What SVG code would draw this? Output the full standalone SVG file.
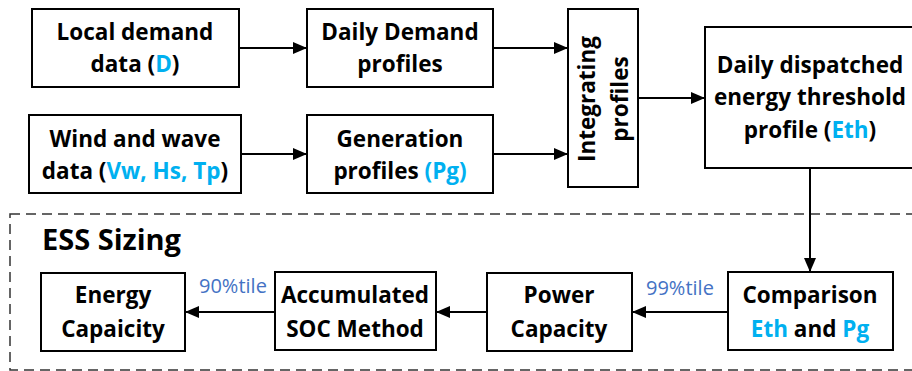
<svg xmlns="http://www.w3.org/2000/svg" width="912" height="371" viewBox="0 0 912 371">
  <style>
    .box { fill: #ffffff; stroke: #000000; stroke-width: 2; }
    .lbl { font-family: "Open Sans", "Liberation Sans", sans-serif; font-weight: bold; font-size: 22.5px; fill: #000000; text-anchor: middle; }
    .hl { fill: #00B0F0; }
    .pct { font-family: "Open Sans", "Liberation Sans", sans-serif; font-size: 20px; fill: #4472C4; }
    .edge { stroke: #000000; stroke-width: 2; fill: none; marker-end: url(#arrow); }
  </style>
  <defs>
    <marker id="arrow" viewBox="0 0 14 12" refX="14" refY="6" markerWidth="14" markerHeight="12" markerUnits="userSpaceOnUse" orient="auto">
      <path d="M0,0 L14,6 L0,12 Z" fill="#000000"/>
    </marker>
  </defs>
  <rect width="912" height="371" fill="#ffffff"/>

  <!-- ESS sizing frame -->
  <g id="ess-frame">
    <rect x="10" y="214" width="910" height="156" fill="none" stroke="#333333" stroke-width="1.5" stroke-dasharray="10,6"/>
    <text x="42" y="250" font-family="'Open Sans', 'Liberation Sans', sans-serif" font-weight="bold" font-size="29" fill="#000000">ESS Sizing</text>
  </g>

  <!-- connectors -->
  <g id="connectors">
    <line class="edge" x1="239" y1="48" x2="307" y2="48"/>
    <line class="edge" x1="241" y1="154" x2="307" y2="154"/>
    <line class="edge" x1="493" y1="48" x2="568" y2="48"/>
    <line class="edge" x1="493" y1="154" x2="568" y2="154"/>
    <line class="edge" x1="638" y1="98" x2="705" y2="98"/>
    <line class="edge" x1="810" y1="168" x2="810" y2="272"/>
    <line class="edge" x1="728" y1="312" x2="632" y2="312"/>
    <line class="edge" x1="487" y1="312" x2="436" y2="312"/>
    <line class="edge" x1="275" y1="312" x2="185" y2="312"/>
    <text class="pct" x="646" y="295">99%tile</text>
    <text class="pct" x="199" y="293">90%tile</text>
  </g>

  <g id="local-demand">
    <rect class="box" x="32" y="9" width="207" height="78"/>
    <text class="lbl" x="135" y="40">Local demand</text>
    <text class="lbl" x="135" y="72">data (<tspan class="hl">D</tspan>)</text>
  </g>

  <g id="daily-demand">
    <rect class="box" x="307" y="9" width="186" height="78"/>
    <text class="lbl" x="400" y="40">Daily Demand</text>
    <text class="lbl" x="400" y="72">profiles</text>
  </g>

  <g id="wind-wave">
    <rect class="box" x="29" y="115" width="212" height="78"/>
    <text class="lbl" x="135" y="147">Wind and wave</text>
    <text class="lbl" x="135" y="179">data (<tspan class="hl">Vw, Hs, Tp</tspan>)</text>
  </g>

  <g id="generation">
    <rect class="box" x="307" y="115" width="186" height="78"/>
    <text class="lbl" x="400" y="147">Generation</text>
    <text class="lbl" x="400" y="179">profiles <tspan class="hl">(Pg)</tspan></text>
  </g>

  <g id="integrating">
    <rect class="box" x="568" y="9" width="70" height="178"/>
    <text class="lbl" transform="translate(595,99) rotate(-90)">Integrating</text>
    <text class="lbl" transform="translate(628,99) rotate(-90)">profiles</text>
  </g>

  <g id="threshold">
    <rect class="box" x="705" y="27" width="215" height="141"/>
    <text class="lbl" x="810" y="73">Daily dispatched</text>
    <text class="lbl" x="810" y="105">energy threshold</text>
    <text class="lbl" x="810" y="138">profile (<tspan class="hl">Eth</tspan>)</text>
  </g>

  <g id="comparison">
    <rect class="box" x="728" y="272" width="165" height="78"/>
    <text class="lbl" x="810" y="303">Comparison</text>
    <text class="lbl" x="810" y="337"><tspan class="hl">Eth</tspan> and <tspan class="hl">Pg</tspan></text>
  </g>

  <g id="power-capacity">
    <rect class="box" x="487" y="273" width="145" height="78"/>
    <text class="lbl" x="559" y="303">Power</text>
    <text class="lbl" x="559" y="337">Capacity</text>
  </g>

  <g id="soc-method">
    <rect class="box" x="275" y="272" width="161" height="78"/>
    <text class="lbl" x="355" y="303">Accumulated</text>
    <text class="lbl" x="355" y="337">SOC Method</text>
  </g>

  <g id="energy-capacity">
    <rect class="box" x="41" y="273" width="144" height="78"/>
    <text class="lbl" x="113" y="303">Energy</text>
    <text class="lbl" x="113" y="337">Capaicity</text>
  </g>
</svg>
